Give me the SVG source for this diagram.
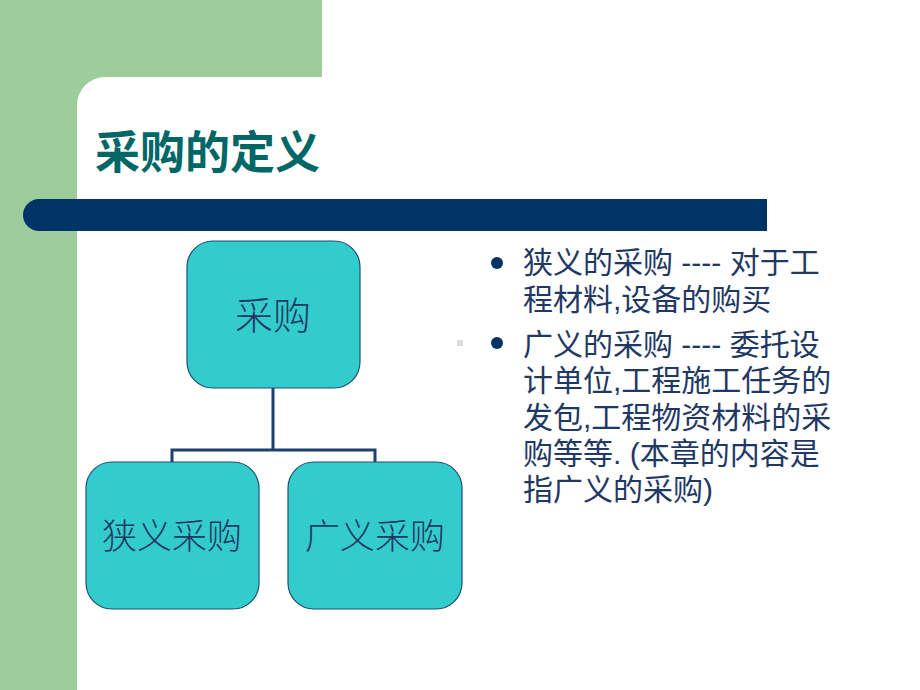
<svg xmlns="http://www.w3.org/2000/svg" width="920" height="690" viewBox="0 0 920 690">
<style>
.box{fill:#33CCCC;stroke:#1F4E79;stroke-width:1.2}
.bt{font-family:"Noto Sans CJK SC","Noto Sans CJK JP",sans-serif;fill:#1F3864;text-anchor:middle;font-weight:300}
.tx{font-family:"Liberation Sans","Noto Sans CJK SC",sans-serif;font-size:30px;fill:#1F3864}
.conn{fill:none;stroke:#1F3F6F;stroke-width:3}
</style>
<rect x="0" y="0" width="920" height="690" fill="#ffffff"/>
<g id="background">
<rect x="0" y="0" width="322" height="77" fill="#9DCD9A"/>
<rect x="0" y="0" width="77" height="690" fill="#9DCD9A"/>
<path d="M77,77 h28 a28,28 0 0 0 -28,28 z" fill="#9DCD9A"/>
<path d="M39,199 H767 V231 H39 A16,16 0 0 1 39,199 Z" fill="#003366"/>
<rect x="457" y="340" width="6" height="6" fill="#dddddd"/>
</g>
<g id="title">
<text x="95" y="169" font-family="Noto Sans CJK SC,sans-serif" font-size="45" font-weight="bold" fill="#006666">采购的定义</text>
</g>
<g id="connectors">
<path class="conn" d="M273,388 V450 M172,462 V450 H375 V462"/>
</g>
<g id="node-root">
<rect class="box" x="187" y="241" width="173" height="147" rx="26"/>
<text class="bt" x="273" y="329" font-size="38">采购</text>
</g>
<g id="node-narrow">
<rect class="box" x="86" y="462" width="173" height="147" rx="26"/>
<text class="bt" x="172" y="549" font-size="35">狭义采购</text>
</g>
<g id="node-broad">
<rect class="box" x="288" y="462" width="174" height="147" rx="26"/>
<text class="bt" x="375" y="549" font-size="35">广义采购</text>
</g>
<g id="bullets">
<circle cx="497" cy="263" r="6" fill="#003366"/>
<circle cx="497" cy="343" r="6" fill="#003366"/>
<text class="tx" x="523" y="273">狭义的采购 ---- 对于工</text>
<text class="tx" x="523" y="310">程材料,设备的购买</text>
<text class="tx" x="523" y="355">广义的采购 ---- 委托设</text>
<text class="tx" x="523" y="391">计单位,工程施工任务的</text>
<text class="tx" x="523" y="428">发包,工程物资材料的采</text>
<text class="tx" x="523" y="464">购等等. (本章的内容是</text>
<text class="tx" x="523" y="500">指广义的采购)</text>
</g>
</svg>
